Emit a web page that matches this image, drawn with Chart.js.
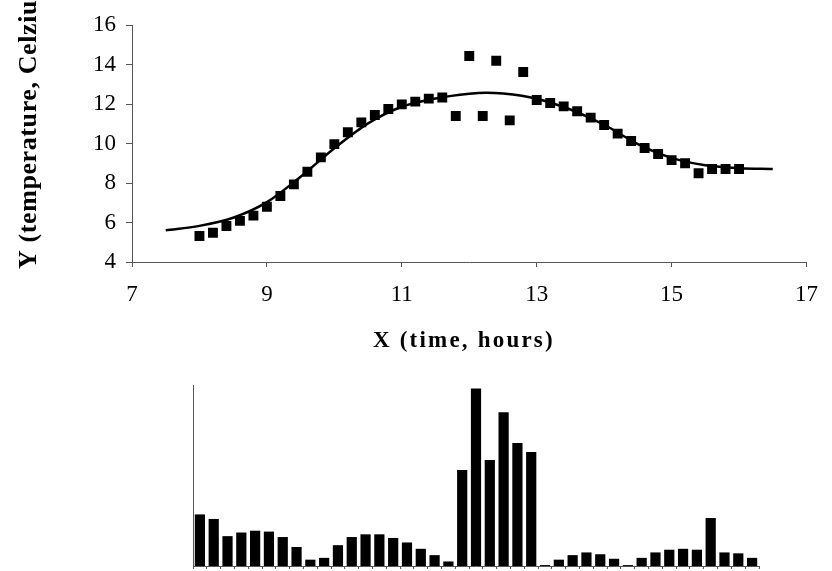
<!DOCTYPE html>
<html>
<head>
<meta charset="utf-8">
<script src="https://cdn.jsdelivr.net/npm/chart.js@4/dist/chart.umd.min.js"></script>
<style>
  body { margin: 0; background: #fff; }
  #top { position: absolute; left: 0; top: 0; width: 832px; height: 360px; }
  #bottom { position: absolute; left: 0; top: 360px; width: 832px; height: 211px; }
</style>
</head>
<body>
<div id="top"><canvas id="fitChart"></canvas></div>
<div id="bottom"><canvas id="resChart"></canvas></div>
<script>
// measured temperatures
const hours = [8.0, 8.2, 8.4, 8.6, 8.8, 9.0, 9.2, 9.4, 9.6, 9.8, 10.0, 10.2, 10.4, 10.6, 10.8,
  11.0, 11.2, 11.4, 11.6, 11.8, 12.0, 12.2, 12.4, 12.6, 12.8, 13.0, 13.2, 13.4, 13.6, 13.8,
  14.0, 14.2, 14.4, 14.6, 14.8, 15.0, 15.2, 15.4, 15.6, 15.8, 16.0];
const temps = [5.32, 5.48, 5.82, 6.08, 6.35, 6.80, 7.34, 7.93, 8.57, 9.30, 9.97, 10.57, 11.07, 11.44, 11.75,
  11.98, 12.12, 12.27, 12.33, 11.39, 14.43, 11.39, 14.19, 11.17, 13.62, 12.20, 12.05, 11.88, 11.63, 11.31,
  10.94, 10.50, 10.13, 9.77, 9.47, 9.16, 9.00, 8.49, 8.71, 8.71, 8.71];

// fitted curve
const fitX = [7.5, 8.0, 8.5, 9.0, 9.5, 10.0, 10.5, 11.0, 11.5, 12.0, 12.25, 12.5, 13.0, 13.5, 14.0, 14.5, 15.0, 15.5, 16.0, 16.5];
const fitY = [5.61, 5.83, 6.24, 7.03, 8.32, 9.76, 11.02, 11.86, 12.28, 12.52, 12.57, 12.53, 12.27, 11.72, 10.95, 9.97, 9.27, 8.90, 8.75, 8.71];

// residual bars (no scale shown)
const residuals = [0.57, 0.52, 0.33, 0.37, 0.39, 0.38, 0.32, 0.21, 0.07, 0.09, 0.23, 0.32, 0.35, 0.35, 0.31,
  0.26, 0.19, 0.12, 0.05, 1.06, 1.96, 1.17, 1.70, 1.36, 1.26, 0.01, 0.07, 0.12, 0.15, 0.13,
  0.08, 0.01, 0.09, 0.15, 0.18, 0.19, 0.18, 0.53, 0.15, 0.14, 0.09];

const xTicks = [7, 9, 11, 13, 15, 17];
const yTicks = [4, 6, 8, 10, 12, 14, 16];
const xTitle = 'X (time, hours)';
const yTitle = 'Y (temperature, Celzius)';

const axisColor = '#555';
const serif = "'Liberation Serif', 'Times New Roman', serif";

const titlePlugin = {
    id: 'titles',
    afterDraw(chart) {
        const ctx = chart.ctx;
        ctx.save();
        ctx.fillStyle = '#000';
        ctx.textBaseline = 'alphabetic';
        ctx.textAlign = 'left';
        ctx.font = "bold 23px " + serif;
        ctx.letterSpacing = '2.2px';
        ctx.fillText(xTitle, 373, 347);
        ctx.translate(36, 269);
        ctx.rotate(-Math.PI / 2);
        ctx.font = "bold 26px " + serif;
        ctx.letterSpacing = '0.6px';
        ctx.fillText(yTitle, 0, 0);
        ctx.restore();
    }
};

new Chart(document.getElementById('fitChart'), {
    type: 'scatter',
    data: {
        datasets: [{
            label: 'data',
            data: hours.map((x, i) => ({ x: x, y: temps[i] })),
            pointStyle: 'rect',
            pointRadius: 7,
            pointBorderWidth: 0,
            backgroundColor: '#000'
        }, {
            label: 'fit',
            data: fitX.map((x, i) => ({ x: x, y: fitY[i] })),
            showLine: true,
            pointRadius: 0,
            borderColor: '#000',
            borderWidth: 2.5,
            cubicInterpolationMode: 'monotone'
        }]
    },
    options: {
        responsive: true,
        maintainAspectRatio: false,
        animation: false,
        layout: { padding: { top: 25, right: 16, left: 0, bottom: 0 } },
        plugins: { legend: { display: false }, tooltip: { enabled: false } },
        scales: {
            x: {
                type: 'linear', min: 7, max: 17,
                afterBuildTicks: s => { s.ticks = xTicks.map(v => ({ value: v })); },
                afterFit: s => { s.height = 98; },
                grid: { drawOnChartArea: false, tickLength: 5, color: axisColor },
                border: { color: axisColor },
                ticks: { color: '#000', font: { family: serif, size: 23 }, padding: 14, maxRotation: 0 }
            },
            y: {
                type: 'linear', min: 4, max: 16,
                afterBuildTicks: s => { s.ticks = yTicks.map(v => ({ value: v })); },
                afterFit: s => { s.width = 132; },
                grid: { drawOnChartArea: false, tickLength: 6, color: axisColor },
                border: { color: axisColor },
                ticks: { color: '#000', font: { family: serif, size: 23 }, padding: 10 }
            }
        }
    },
    plugins: [titlePlugin]
});

new Chart(document.getElementById('resChart'), {
    type: 'bar',
    data: {
        labels: hours,
        datasets: [{
            data: residuals,
            backgroundColor: '#000',
            borderWidth: 0,
            barPercentage: 0.74,
            categoryPercentage: 1.0
        }]
    },
    options: {
        responsive: true,
        maintainAspectRatio: false,
        animation: false,
        layout: { padding: { top: 25, right: 73, left: 0, bottom: 0 } },
        plugins: { legend: { display: false }, tooltip: { enabled: false } },
        scales: {
            x: {
                afterFit: s => { s.height = 5; },
                grid: { offset: true, drawOnChartArea: false, tickLength: 3, color: axisColor },
                border: { color: axisColor },
                ticks: { display: false }
            },
            y: {
                min: 0, max: 2,
                afterFit: s => { s.width = 193; },
                grid: { display: false },
                border: { color: axisColor },
                ticks: { display: false }
            }
        }
    }
});
</script>
</body>
</html>
